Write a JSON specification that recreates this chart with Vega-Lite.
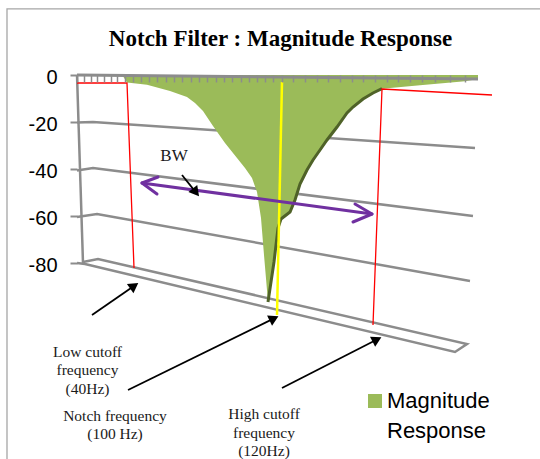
{
  "$schema": "https://vega.github.io/schema/vega-lite/v6.json",
  "width": 463,
  "height": 384,
  "autosize": {"type": "none"},
  "padding": {"left": 77, "top": 75, "right": 0, "bottom": 0},
  "background": "white",
  "config": {
    "view": {"stroke": null},
    "style": {"guide-label": {"lineHeight": 30, "dy": -10}}
  },
  "title": {
    "text": "Notch Filter : Magnitude Response",
    "font": "Liberation Serif",
    "fontSize": 23,
    "fontWeight": "bold",
    "color": "#000000",
    "anchor": "middle",
    "frame": "group",
    "dx": -28,
    "dy": 93.5,
    "baseline": "alphabetic",
    "offset": 31
  },
  "datasets": {
    "mag": [
      {"x": 0, "v": -0.3, "series": "Magnitude Response"},
      {"x": 11.5, "v": -0.5, "series": "Magnitude Response"},
      {"x": 12.5, "v": -3.2, "series": "Magnitude Response"},
      {"x": 17.5, "v": -4.1, "series": "Magnitude Response"},
      {"x": 23.25, "v": -6.8, "series": "Magnitude Response"},
      {"x": 27.5, "v": -9.4, "series": "Magnitude Response"},
      {"x": 29.5, "v": -11.91, "series": "Magnitude Response"},
      {"x": 31.5, "v": -15.32, "series": "Magnitude Response"},
      {"x": 34, "v": -21.7, "series": "Magnitude Response"},
      {"x": 37, "v": -28.94, "series": "Magnitude Response"},
      {"x": 40, "v": -35.32, "series": "Magnitude Response"},
      {"x": 42, "v": -39.57, "series": "Magnitude Response"},
      {"x": 43.75, "v": -43.83, "series": "Magnitude Response"},
      {"x": 45, "v": -49.79, "series": "Magnitude Response"},
      {"x": 46, "v": -60.85, "series": "Magnitude Response"},
      {"x": 46.75, "v": -76.6, "series": "Magnitude Response"},
      {"x": 47.75, "v": -96.6, "series": "Magnitude Response"},
      {"x": 49.25, "v": -79.57, "series": "Magnitude Response"},
      {"x": 50.25, "v": -65.11, "series": "Magnitude Response"},
      {"x": 51, "v": -61.28, "series": "Magnitude Response"},
      {"x": 53.25, "v": -58.3, "series": "Magnitude Response"},
      {"x": 54.5, "v": -53.19, "series": "Magnitude Response"},
      {"x": 55.75, "v": -46.38, "series": "Magnitude Response"},
      {"x": 57.5, "v": -40.43, "series": "Magnitude Response"},
      {"x": 59, "v": -36.17, "series": "Magnitude Response"},
      {"x": 60.75, "v": -31.91, "series": "Magnitude Response"},
      {"x": 62.5, "v": -27.66, "series": "Magnitude Response"},
      {"x": 65, "v": -22.13, "series": "Magnitude Response"},
      {"x": 67.5, "v": -16.17, "series": "Magnitude Response"},
      {"x": 69, "v": -13.62, "series": "Magnitude Response"},
      {"x": 71.5, "v": -10.21, "series": "Magnitude Response"},
      {"x": 74, "v": -7.66, "series": "Magnitude Response"},
      {"x": 76.25, "v": -5.83, "series": "Magnitude Response"},
      {"x": 85.75, "v": -4.38, "series": "Magnitude Response"},
      {"x": 97, "v": -2.7, "series": "Magnitude Response"},
      {"x": 100.25, "v": -1.7, "series": "Magnitude Response"}
    ],
    "lines": [
      {"id": "frame", "kind": "frame", "o": 0, "x": -17.5, "v": -163.4},
      {"id": "frame", "kind": "frame", "o": 1, "x": -17.5, "v": 28.1},
      {"id": "frame", "kind": "frame", "o": 2, "x": 115.75, "v": 28.1},
      {"id": "g20", "kind": "grid", "o": 0, "x": 0, "v": -20.2},
      {"id": "g20", "kind": "grid", "o": 1, "x": 4, "v": -20},
      {"id": "g20", "kind": "grid", "o": 2, "x": 99.5, "v": -31.06},
      {"id": "g40", "kind": "grid", "o": 0, "x": 0, "v": -40.6},
      {"id": "g40", "kind": "grid", "o": 1, "x": 4, "v": -39.6},
      {"id": "g40", "kind": "grid", "o": 2, "x": 99, "v": -60},
      {"id": "g60", "kind": "grid", "o": 0, "x": 0, "v": -60.4},
      {"id": "g60", "kind": "grid", "o": 1, "x": 5, "v": -59.15},
      {"id": "g60", "kind": "grid", "o": 2, "x": 98.25, "v": -87.66},
      {"id": "floor", "kind": "grid", "o": 0, "x": 0, "v": -80},
      {"id": "floor", "kind": "grid", "o": 1, "x": 2, "v": -80.43},
      {"id": "floor", "kind": "grid", "o": 2, "x": 94.5, "v": -117.87},
      {"id": "floor", "kind": "grid", "o": 3, "x": 97.5, "v": -114.47},
      {"id": "floor", "kind": "grid", "o": 4, "x": 5.25, "v": -78.3},
      {"id": "floor", "kind": "grid", "o": 5, "x": 1.5, "v": -79.6},
      {"id": "wall", "kind": "grid", "o": 0, "x": 0, "v": 0},
      {"id": "wall", "kind": "grid", "o": 1, "x": 1.5, "v": -80},
      {"id": "top", "kind": "top", "o": 0, "x": 0, "v": 0},
      {"id": "top", "kind": "top", "o": 1, "x": 100.25, "v": -1.7},
      {"id": "low", "kind": "cutoff", "o": 0, "x": 0, "v": -3.4},
      {"id": "low", "kind": "cutoff", "o": 1, "x": 12.5, "v": -3.4},
      {"id": "low", "kind": "cutoff", "o": 2, "x": 14.25, "v": -82.13},
      {"id": "high", "kind": "cutoff", "o": 0, "x": 103.75, "v": -8.51},
      {"id": "high", "kind": "cutoff", "o": 1, "x": 76.25, "v": -5.96},
      {"id": "high", "kind": "cutoff", "o": 2, "x": 74, "v": -106.38},
      {"id": "notch", "kind": "notch", "o": 0, "x": 51.25, "v": -2.98},
      {"id": "notch", "kind": "notch", "o": 1, "x": 50, "v": -102.1},
      {"id": "bwmain", "kind": "bw", "o": 0, "x": 16.25, "v": -45.96},
      {"id": "bwmain", "kind": "bw", "o": 1, "x": 73.75, "v": -59.15},
      {"id": "bwl", "kind": "bw", "o": 0, "x": 20.25, "v": -43.4},
      {"id": "bwl", "kind": "bw", "o": 1, "x": 16.25, "v": -45.96},
      {"id": "bwl", "kind": "bw", "o": 2, "x": 20, "v": -50.64},
      {"id": "bwr", "kind": "bw", "o": 0, "x": 69.5, "v": -54.89},
      {"id": "bwr", "kind": "bw", "o": 1, "x": 73.75, "v": -59.15},
      {"id": "bwr", "kind": "bw", "o": 2, "x": 69, "v": -62.55},
      {"id": "pBW", "kind": "pointer", "o": 0, "x": 26.25, "v": -42.55},
      {"id": "pBW", "kind": "pointer", "o": 1, "x": 29.47, "v": -49.4},
      {"id": "pLow", "kind": "pointer", "o": 0, "x": 3.75, "v": -102.13},
      {"id": "pLow", "kind": "pointer", "o": 1, "x": 13.97, "v": -90.13},
      {"id": "pNotch", "kind": "pointer", "o": 0, "x": 12.75, "v": -134.04},
      {"id": "pNotch", "kind": "pointer", "o": 1, "x": 48.88, "v": -103.9},
      {"id": "pHigh", "kind": "pointer", "o": 0, "x": 51.25, "v": -133.19},
      {"id": "pHigh", "kind": "pointer", "o": 1, "x": 74.63, "v": -112.89}
    ],
    "heads": [
      {"id": "hBW", "x": 29.47, "v": -49.4},
      {"id": "hLow", "x": 13.97, "v": -90.13},
      {"id": "hNotch", "x": 48.88, "v": -103.9},
      {"id": "hHigh", "x": 74.63, "v": -112.89}
    ],
    "notes": [
      {"label": "Low cutoff\nfrequency\n(40Hz)", "x": 2.63, "v": -117.87},
      {"label": "Notch frequency\n(100 Hz)", "x": 9.5, "v": -145.1},
      {"label": "High cutoff\nfrequency\n(120Hz)", "x": 46.75, "v": -144.26}
    ],
    "bwnote": [
      {"label": "BW", "x": 24.25, "v": -34.47}
    ]
  },
  "encoding": {
    "x": {
      "field": "x",
      "type": "quantitative",
      "scale": {"domain": [0, 115.75], "nice": false, "zero": false},
      "axis": {
        "orient": "top",
        "values": [0, 1.75, 3.5, 5, 6.75, 8.5, 10, 12, 14, 16, 18, 20, 22.25, 24.25, 26.25, 28.5, 30.5, 32.5, 34.75, 36.75, 38.75, 41, 43, 45, 47, 49, 51.25, 54, 57, 60, 62.75, 65.75, 68.75, 71.5, 74.5, 77.5, 80.25, 83.25, 86.25, 89.5, 93.25, 97],
        "labels": false,
        "domain": false,
        "grid": false,
        "ticks": true,
        "tickSize": -7,
        "tickColor": "#8c8c8c",
        "tickWidth": 1.5,
        "title": null,
        "zindex": 1
      }
    },
    "y": {
      "field": "v",
      "type": "quantitative",
      "scale": {"domain": [-163.404, 0], "nice": false, "zero": false},
      "axis": {
        "values": [0, -20, -40, -60, -80],
        "labelExpr": "'' + datum.value",
        "domain": false,
        "grid": false,
        "ticks": true,
        "tickSize": 7,
        "tickColor": "#8c8c8c",
        "tickWidth": 2,
        "labelFont": "Liberation Sans",
        "labelFontSize": 20,
        "labelColor": "#000000",
        "labelPadding": 13,
        "labelOffset": 12,
        "labelFlush": false,
        "title": null,
        "zindex": 1
      }
    }
  },
  "layer": [
    {
      "data": {"name": "lines"},
      "transform": [{"filter": "datum.kind == 'frame'"}],
      "mark": {"type": "line", "color": "#a6a6a6", "strokeWidth": 1.3},
      "encoding": {"detail": {"field": "id"}, "order": {"field": "o"}}
    },
    {
      "data": {"name": "lines"},
      "transform": [{"filter": "datum.kind == 'grid'"}],
      "mark": {"type": "line", "color": "#8c8c8c", "strokeWidth": 2.5},
      "encoding": {"detail": {"field": "id"}, "order": {"field": "o"}}
    },
    {
      "data": {"name": "mag"},
      "mark": {"type": "area", "opacity": 1},
      "encoding": {
        "color": {
          "field": "series",
          "type": "nominal",
          "scale": {"range": ["#9bbb59"]},
          "legend": {
            "orient": "none",
            "legendX": 287,
            "legendY": 315,
            "title": null,
            "symbolType": "square",
            "symbolSize": 196,
            "symbolStrokeWidth": 0,
            "labelFont": "Liberation Sans",
            "labelFontSize": 22,
            "labelColor": "#000000",
            "labelOffset": 1,
            "labelBaseline": "top",
            "labelLimit": 300,
            "labelExpr": "split(datum.label, ' ')"
          }
        }
      }
    },
    {
      "data": {"name": "mag"},
      "transform": [{"filter": "datum.x >= 47.75 && datum.x <= 76.25"}],
      "mark": {"type": "line", "color": "#4f6228", "strokeWidth": 3},
      "encoding": {}
    },
    {
      "data": {"name": "lines"},
      "transform": [{"filter": "datum.kind == 'top'"}],
      "mark": {"type": "line", "color": "#8c8c8c", "strokeWidth": 3},
      "encoding": {"detail": {"field": "id"}, "order": {"field": "o"}}
    },
    {
      "data": {"name": "lines"},
      "transform": [{"filter": "datum.kind == 'cutoff'"}],
      "mark": {"type": "line", "color": "#ff0000", "strokeWidth": 1.3},
      "encoding": {"detail": {"field": "id"}, "order": {"field": "o"}}
    },
    {
      "data": {"name": "lines"},
      "transform": [{"filter": "datum.kind == 'notch'"}],
      "mark": {"type": "line", "color": "#ffff00", "strokeWidth": 2.5},
      "encoding": {"detail": {"field": "id"}, "order": {"field": "o"}}
    },
    {
      "data": {"name": "lines"},
      "transform": [{"filter": "datum.kind == 'bw'"}],
      "mark": {"type": "line", "color": "#7030a0", "strokeWidth": 3, "strokeCap": "round", "strokeJoin": "round"},
      "encoding": {"detail": {"field": "id"}, "order": {"field": "o"}}
    },
    {
      "data": {"name": "lines"},
      "transform": [{"filter": "datum.kind == 'pointer'"}],
      "mark": {"type": "line", "color": "#000000", "strokeWidth": 1.8},
      "encoding": {"detail": {"field": "id"}, "order": {"field": "o"}}
    },
    {
      "data": {"name": "heads"},
      "transform": [{"filter": "datum.id == 'hBW'"}],
      "mark": {"type": "point", "shape": "triangle", "filled": true, "color": "#000000", "opacity": 1, "size": 130, "angle": 141}
    },
    {
      "data": {"name": "heads"},
      "transform": [{"filter": "datum.id == 'hLow'"}],
      "mark": {"type": "point", "shape": "triangle", "filled": true, "color": "#000000", "opacity": 1, "size": 130, "angle": 55}
    },
    {
      "data": {"name": "heads"},
      "transform": [{"filter": "datum.id == 'hNotch'"}],
      "mark": {"type": "point", "shape": "triangle", "filled": true, "color": "#000000", "opacity": 1, "size": 130, "angle": 64}
    },
    {
      "data": {"name": "heads"},
      "transform": [{"filter": "datum.id == 'hHigh'"}],
      "mark": {"type": "point", "shape": "triangle", "filled": true, "color": "#000000", "opacity": 1, "size": 130, "angle": 63}
    },
    {
      "data": {"name": "notes"},
      "mark": {"type": "text", "font": "Liberation Serif", "fontSize": 15.5, "lineBreak": "\n", "lineHeight": 18.5, "align": "center", "baseline": "middle", "color": "#1a1a1a"},
      "encoding": {"text": {"field": "label", "type": "nominal"}}
    },
    {
      "data": {"name": "bwnote"},
      "mark": {"type": "text", "font": "Liberation Serif", "fontSize": 17, "align": "center", "baseline": "middle", "color": "#1a1a1a"},
      "encoding": {"text": {"field": "label", "type": "nominal"}}
    }
  ]
}
